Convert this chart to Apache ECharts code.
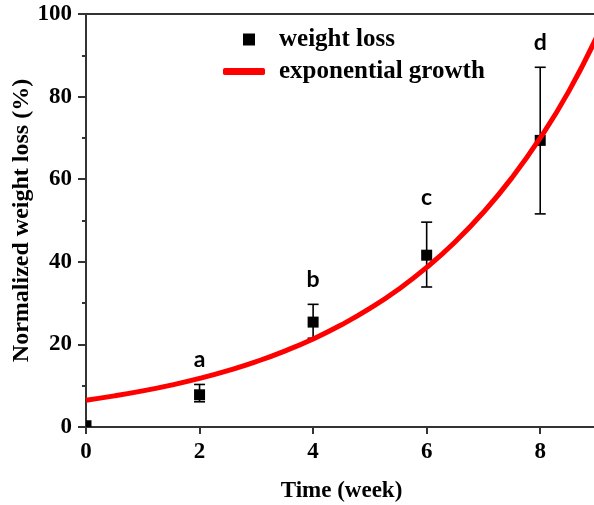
<!DOCTYPE html>
<html>
<head>
<meta charset="utf-8">
<script src="https://cdn.jsdelivr.net/npm/echarts@6/dist/echarts.min.js"></script>
<style>html,body{margin:0;padding:0;background:#fff}#c{width:594px;height:505px}</style>
</head>
<body>
<div id="c"></div>
<script>
// ---- data ----
var weeks = [0, 2, 4, 6, 8];
var weightLoss = [0.3, 7.8, 25.4, 41.6, 69.4];
var errLow = [0.3, 6.1, 21.5, 33.9, 51.6];
var errHigh = [0.3, 10.3, 29.7, 49.6, 87.1];
var sigLetters = ['', 'a', 'b', 'c', 'd'];
var fitX = [0, 0.5, 1, 1.5, 2, 2.5, 3, 3.5, 4, 4.5, 5, 5.5, 6, 6.5, 7, 7.5, 8, 8.5, 9];
var fitY = [6.5, 7.54, 8.75, 10.15, 11.77, 13.66, 15.84, 18.38, 21.32, 24.74, 28.7, 33.29, 38.63, 44.81, 51.99, 60.32, 69.98, 81.2, 94.6];
var xTicks = [0, 2, 4, 6, 8];

var serif = "'Liberation Serif','Times New Roman',serif";
var axisColor = '#333';

var pointData = weeks.map(function (w, i) {
  return [w, weightLoss[i], errLow[i], errHigh[i], sigLetters[i]];
});
var fitData = fitX.map(function (x, i) { return [x, fitY[i]]; });

var chart = echarts.init(document.getElementById('c'), null, {renderer: 'canvas'});
chart.setOption({
  animation: false,
  backgroundColor: '#fff',
  grid: {left: 86, right: -3, top: 14, bottom: 78, outerBoundsMode: 'none', containLabel: false,
         show: true, borderColor: axisColor, borderWidth: 2, backgroundColor: 'transparent'},
  legend: [{
    data: [{name: 'weight loss', icon: 'rect'}],
    left: 243, top: 27, padding: 0, itemWidth: 12, itemHeight: 12,
    textStyle: {fontFamily: serif, fontWeight: 'bold', fontSize: 25, color: '#000', padding: [0, 0, 0, 19]}
  }, {
    data: [{name: 'exponential growth', icon: 'roundRect'}],
    left: 223, top: 59, padding: 0, itemWidth: 42, itemHeight: 7,
    textStyle: {fontFamily: serif, fontWeight: 'bold', fontSize: 25, color: '#000', padding: [0, 0, 0, 9]}
  }],
  xAxis: {
    type: 'value', min: 0, max: 9, interval: 2,
    name: 'Time (week)', nameLocation: 'middle', nameGap: 53, nameMoveOverlap: false,
    nameTextStyle: {fontFamily: serif, fontWeight: 'bold', fontSize: 23, color: '#000'},
    axisLine: {show: true, onZero: false, lineStyle: {color: axisColor, width: 2}},
    axisTick: {show: true, inside: false, length: 7, customValues: xTicks, lineStyle: {color: axisColor, width: 2}},
    axisLabel: {margin: 14, customValues: xTicks, fontFamily: serif, fontWeight: 'bold', fontSize: 23, color: '#000'},
    splitLine: {show: false}
  },
  yAxis: {
    type: 'value', min: 0, max: 100, interval: 20,
    name: 'Normalized weight loss (%)', nameLocation: 'middle', nameGap: 52, nameMoveOverlap: false,
    nameTextStyle: {fontFamily: serif, fontWeight: 'bold', fontSize: 24, color: '#000'},
    axisLine: {show: true, onZero: false, lineStyle: {color: axisColor, width: 2}},
    axisTick: {show: true, inside: false, length: 8, lineStyle: {color: axisColor, width: 2}},
    minorTick: {show: true, splitNumber: 2, length: 4, lineStyle: {color: axisColor, width: 2}},
    axisLabel: {margin: 14, fontFamily: serif, fontWeight: 'bold', fontSize: 23, color: '#000'},
    splitLine: {show: false}
  },
  series: [{
    name: 'weight loss',
    type: 'custom',
    clip: true,
    z: 2,
    itemStyle: {color: '#000'},
    data: pointData,
    encode: {x: 0, y: [1, 2, 3]},
    renderItem: function (params, api) {
      var x = api.value(0);
      var c = api.coord([x, api.value(1)]);
      var lo = api.coord([x, api.value(2)]);
      var hi = api.coord([x, api.value(3)]);
      var letter = pointData[params.dataIndex][4];
      var half = 5.5, capHalf = 5.5;
      var children = [];
      if (Math.abs(lo[1] - hi[1]) > 0.5) {
        children.push({type: 'line', shape: {x1: c[0], y1: hi[1], x2: c[0], y2: lo[1]}, style: {stroke: '#000', lineWidth: 1.6}});
        children.push({type: 'line', shape: {x1: c[0] - capHalf, y1: hi[1], x2: c[0] + capHalf, y2: hi[1]}, style: {stroke: '#000', lineWidth: 1.6}});
        children.push({type: 'line', shape: {x1: c[0] - capHalf, y1: lo[1], x2: c[0] + capHalf, y2: lo[1]}, style: {stroke: '#000', lineWidth: 1.6}});
      }
      children.push({type: 'rect', shape: {x: c[0] - half, y: c[1] - half, width: half * 2, height: half * 2}, style: {fill: '#000'}});
      if (letter) {
        children.push({type: 'text', x: c[0], y: hi[1] - 25, style: {text: letter, fill: '#000', fontFamily: "Lato,'Open Sans',sans-serif", fontWeight: 'bold', fontSize: 23, align: 'center', verticalAlign: 'middle'}});
      }
      return {type: 'group', children: children};
    }
  }, {
    name: 'exponential growth',
    type: 'line',
    z: 3,
    data: fitData,
    smooth: true,
    showSymbol: false,
    symbol: 'none',
    clip: true,
    itemStyle: {color: '#f00'},
    lineStyle: {color: '#f00', width: 5}
  }]
});
</script>
</body>
</html>
